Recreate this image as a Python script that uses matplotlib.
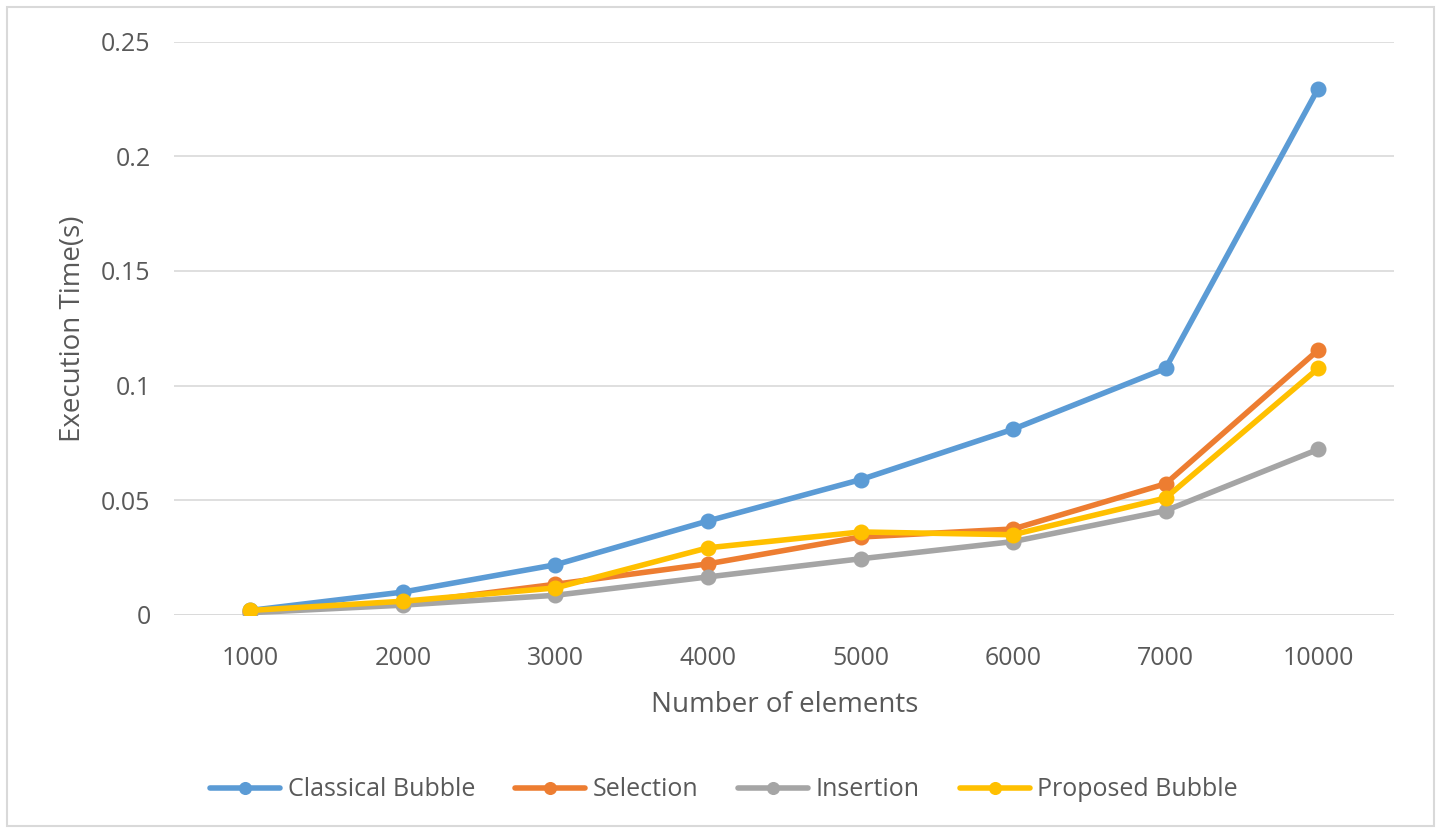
import matplotlib.pyplot as plt
from matplotlib.patches import Rectangle

plt.rcParams['font.family'] = ['Open Sans', 'DejaVu Sans']

sizes = ['1000', '2000', '3000', '4000', '5000', '6000', '7000', '10000']
classical_bubble = [0.002, 0.0100, 0.0219, 0.0410, 0.0590, 0.0810, 0.1075, 0.2295]
selection = [0.0015, 0.0050, 0.0134, 0.0223, 0.0340, 0.0375, 0.0572, 0.1155]
insertion = [0.0010, 0.0043, 0.0086, 0.0166, 0.0245, 0.0320, 0.0455, 0.0722]
proposed_bubble = [0.0020, 0.0060, 0.0118, 0.0293, 0.0362, 0.0350, 0.0510, 0.1075]
y_ticks = [0, 0.05, 0.1, 0.15, 0.2, 0.25]

series = [
    ('Classical Bubble', classical_bubble, '#5B9BD5'),
    ('Selection', selection, '#ED7D31'),
    ('Insertion', insertion, '#A5A5A5'),
    ('Proposed Bubble', proposed_bubble, '#FFC000'),
]

fig = plt.figure(figsize=(14.39, 8.34), dpi=100)
ax = fig.add_axes([0.121, 0.2626, 0.848, 0.6875])

x = range(len(sizes))
for name, vals, col in series:
    ax.plot(x, vals, color=col, lw=4.0, marker='o', ms=10.5,
            solid_capstyle='round', label=name)

ax.set_xlim(-0.5, len(sizes) - 0.5)
ax.set_ylim(0, 0.25)
ax.set_yticks(y_ticks)
ax.set_yticklabels(['0', '0.05', '0.1', '0.15', '0.2', '0.25'])
ax.set_xticks(list(x))
ax.set_xticklabels(sizes)
ax.tick_params(length=0, labelsize=18, labelcolor='#595959')
ax.tick_params(axis='x', pad=22)
ax.tick_params(axis='y', pad=17)
ax.grid(axis='y', color='#D9D9D9', lw=1.2)
ax.set_axisbelow(True)
for s in ax.spines.values():
    s.set_visible(False)
ax.axhline(0, color='#D9D9D9', lw=1.2, zorder=0)

ax.set_xlabel('Number of elements', fontsize=20, color='#595959', labelpad=15)
ax.set_ylabel('Execution Time(s)', fontsize=20, color='#595959', labelpad=10)

ax.legend(loc='center', bbox_to_anchor=(724 / 1439, 1 - 790 / 834),
          bbox_transform=fig.transFigure, ncol=4, frameon=False,
          fontsize=18, labelcolor='#595959', handlelength=2.8,
          columnspacing=1.6, handletextpad=0.3, markerscale=0.8)

# chart frame
fig.patches.append(Rectangle((7 / 1439, 8 / 834), 1427 / 1439, 819 / 834,
                             transform=fig.transFigure, fill=False,
                             ec='#D9D9D9', lw=1.5))

fig.savefig('out.png', dpi=100)
